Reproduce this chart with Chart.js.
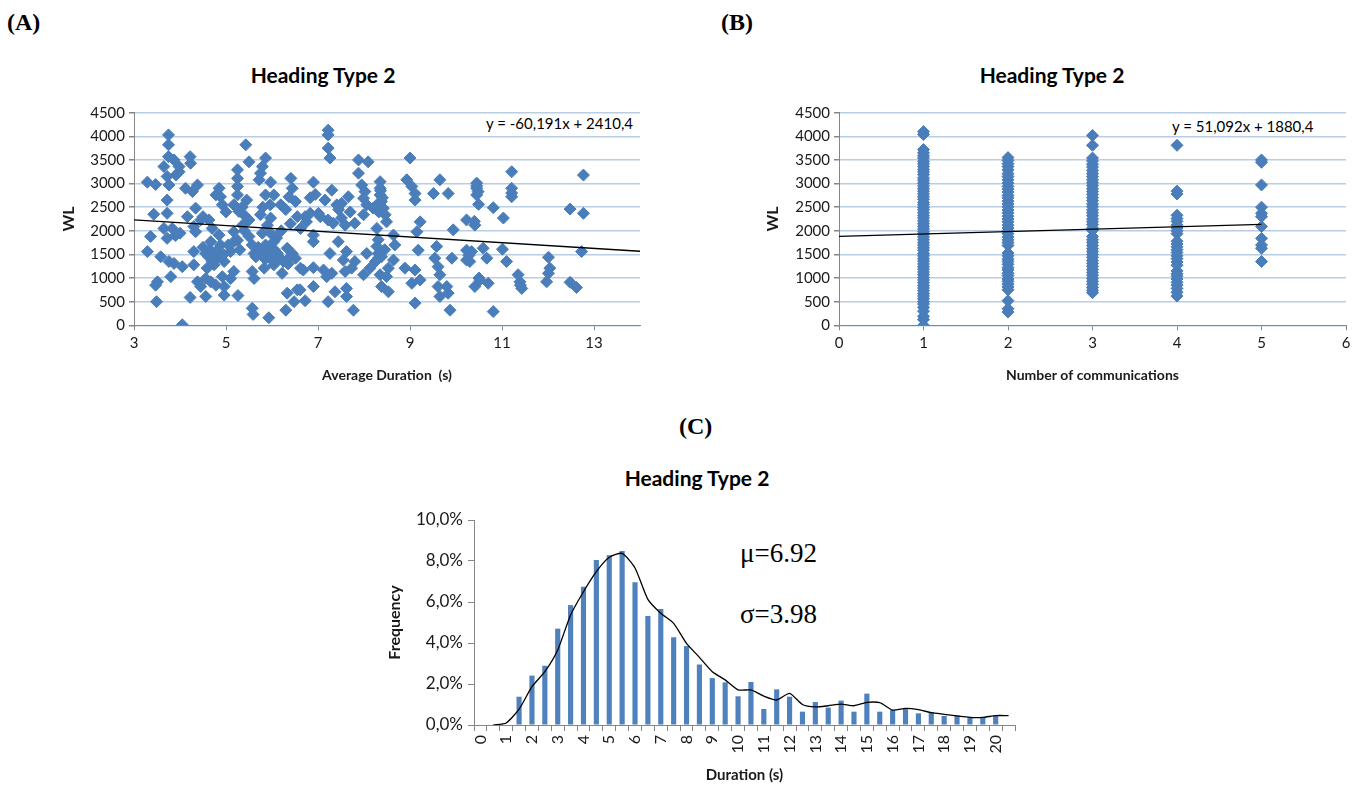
<!DOCTYPE html>
<html>
<head>
<meta charset="utf-8">
<title>Heading Type 2</title>
<script src="https://cdn.jsdelivr.net/npm/chart.js@4.4.0/dist/chart.umd.min.js"></script>
<style>
  body { margin: 0; background: #fff; }
  #page { position: relative; width: 1363px; height: 785px; overflow: hidden; }
  canvas { position: absolute; }
  .panel { position: absolute; font-family: 'Liberation Serif', serif; font-weight: bold; font-size: 24px; line-height: 1; }
  .ttl { position: absolute; font-family: Lato, sans-serif; font-weight: bold; font-size: 21px; white-space: nowrap; transform: translate(-50%, -50%); }
  .eq { position: absolute; font-family: Lato, sans-serif; font-size: 15px; white-space: nowrap; transform: translateY(-50%); }
  .stat { position: absolute; font-family: 'Liberation Serif', serif; font-size: 27px; white-space: nowrap; transform: translateY(-50%); }
</style>
</head>
<body>
<div id="page">
  <div class="panel" style="left:7px; top:10px;">(A)</div>
  <div class="panel" style="left:721px; top:10px;">(B)</div>
  <div class="panel" style="left:679px; top:414px;">(C)</div>
  <div class="ttl" style="left:323px; top:74px;">Heading Type 2</div>
  <div class="ttl" style="left:1052px; top:74px;">Heading Type 2</div>
  <div class="ttl" style="left:697px; top:477px;">Heading Type 2</div>
  <div class="eq" id="eqA" style="right:730px; top:123px;"></div>
  <div class="eq" id="eqB" style="left:1172px; top:126px;"></div>
  <div class="stat" style="left:740px; top:553px;">&mu;=6.92</div>
  <div class="stat" style="left:740px; top:614px;">&sigma;=3.98</div>

  <canvas id="chartA" width="680" height="300" style="left:0; top:95px;"></canvas>
  <canvas id="chartB" width="683" height="300" style="left:680px; top:95px;"></canvas>
  <canvas id="chartC" width="720" height="290" style="left:340px; top:500px;"></canvas>
</div>

<script>
// (A) duracion media vs WL
const durA = [
  3.75, 3.75, 3.75, 3.65, 3.87, 3.98, 3.72, 3.91, 3.98, 3.76,
  3.29, 3.47, 4.22, 4.23, 4.12, 4.27, 4.38, 4.34, 4.16, 3.72,
  3.72, 3.43, 3.65, 3.83, 3.72, 3.36, 3.29, 3.58, 3.76, 3.87,
  4.05, 3.80, 3.51, 3.47, 3.49, 4.05, 4.22, 4.30, 4.30, 4.34,
  4.30, 4.45, 4.38, 4.45, 4.56, 4.56, 4.59, 4.56, 4.67, 4.70,
  4.63, 4.85, 4.88, 4.92, 4.78, 4.85, 4.88, 4.78, 4.81, 4.74,
  4.67, 4.78, 4.96, 4.96, 4.92, 4.96, 5.10, 5.17, 5.17, 5.10,
  5.17, 5.26, 5.43, 5.50, 5.25, 5.25, 5.25, 5.25, 5.17, 5.28,
  5.39, 5.50, 5.36, 5.50, 5.57, 5.61, 5.57, 5.61, 5.57, 5.59,
  5.75, 5.86, 5.79, 5.75, 5.72, 5.97, 5.86, 6.04, 5.96, 6.19,
  6.41, 6.44, 6.37, 6.51, 6.55, 5.97, 5.90, 5.79, 5.97, 5.86,
  6.04, 5.75, 5.93, 6.12, 6.33, 6.44, 6.51, 5.83, 6.04, 6.22,
  6.33, 6.55, 6.48, 6.30, 5.93, 6.62, 6.62,
  5.95, 6.05, 6.15, 5.85, 6.00, 6.25, 6.10, 5.70, 5.65, 6.35,
  6.40, 5.25, 5.30, 5.05, 4.95, 4.62, 4.70, 4.50, 4.65, 5.40,
  5.35, 5.45, 5.00, 4.50, 4.00, 3.90, 5.80, 6.30, 6.20, 6.40,
  7.22, 7.22, 7.22, 7.26, 7.88, 8.09, 7.88, 6.90, 7.30, 7.15,
  6.94, 6.83, 7.41, 7.51, 7.66, 6.83, 6.72, 7.01, 6.75, 7.22,
  7.33, 7.51, 7.59, 7.80, 6.90, 6.90, 7.44, 7.26, 7.62, 7.55,
  7.80, 8.06, 6.68, 6.90, 7.12, 7.19, 7.30, 7.59, 7.73, 7.99,
  8.13, 6.90, 6.61, 6.72, 7.37, 7.62, 7.62, 7.22, 7.77, 7.95,
  8.02, 7.99, 8.06, 7.99, 8.20, 8.35, 8.35, 8.35, 8.38, 8.42,
  8.28, 8.46, 8.49, 8.28, 8.31, 8.28, 8.31, 8.38, 8.31, 8.67,
  8.64, 8.64, 8.53, 8.35, 8.49, 8.38, 8.53, 8.89, 9.00, 8.93,
  9.04, 9.11, 9.11, 9.22, 9.15, 9.18, 9.04, 9.11, 9.22, 9.11,
  9.51, 9.65, 9.83, 9.58, 9.54, 9.61, 9.65, 9.61, 9.65, 9.80,
  9.83, 9.91, 9.94, 9.87, 10.23, 10.23, 10.23,
  8.40, 8.36, 8.32, 7.45, 7.05, 8.25, 8.45, 7.70,
  11.21, 11.21, 11.21, 10.45, 10.45, 10.45, 10.49, 10.81, 11.03, 10.41,
  10.30, 10.34, 10.59, 10.67, 11.01, 11.10, 11.35, 11.39, 11.43, 10.52,
  10.41, 10.70, 10.81, 12.01, 12.04, 12.01, 11.97, 12.48, 12.77, 12.77,
  12.73, 12.48, 12.62,
  10.45, 11.21, 10.40, 10.28, 10.50, 11.40, 10.48
];
const wlA = [
  4030, 3820, 3570, 3360, 3500, 3360, 3150, 3180, 3250, 2970,
  3030, 2980, 3570, 3430, 2900, 2830, 2970, 2480, 2300, 2650,
  2370, 2350, 2050, 2050, 1840, 1880, 1560, 1450, 1350, 1310,
  1240, 1030, 920, 850, 500, 10, 590, 1280, 1560, 1980,
  2090, 2230, 920, 820, 610, 990, 1210, 1520, 1770, 2050,
  2230, 2900, 2720, 2550, 2760, 1910, 1700, 1560, 1420, 1280,
  920, 850, 820, 640, 1030, 1350, 1560, 1770, 1980, 990,
  1140, 630, 3820, 3460, 3290, 3110, 2940, 2760, 2550, 2410,
  2340, 2230, 2120, 1880, 1700, 1520, 1140, 990, 360, 230,
  2340, 3540, 3360, 3220, 3080, 3030, 2760, 2760, 2550, 2550,
  3110, 2900, 2720, 2620, 2300, 2270, 2120, 1950, 1950, 1700,
  1770, 1560, 1490, 1520, 1630, 1520, 1420, 1210, 1280, 1100,
  680, 750, 500, 320, 160, 1210, 2050,
  1650, 1600, 1450, 1400, 1380, 1350, 1850, 1650, 1450, 1300,
  1450, 1800, 1600, 1700, 1500, 1450, 1350, 1650, 1600, 2000,
  2500, 2650, 2400, 2300, 1950, 1900, 2500, 2450, 2000, 2150,
  4130, 4030, 3750, 3540, 3500, 3460, 3220, 3030, 2860, 2650,
  2770, 2700, 2550, 2580, 2720, 2370, 2300, 2370, 2190, 2230,
  2160, 2270, 2120, 2160, 1910, 1770, 1770, 1520, 1560, 1380,
  1350, 1520, 1170, 1220, 1170, 1030, 1100, 1140, 1210, 1070,
  1210, 820, 750, 520, 710, 780, 610, 500, 320, 2970,
  2830, 2690, 2550, 2340, 2480, 3040, 2900, 2760, 2620, 2480,
  2550, 2340, 2190, 2050, 1810, 1670, 1520, 1450, 1420, 1700,
  1910, 1380, 1210, 1070, 1030, 820, 710, 1210, 3540, 3080,
  2940, 2790, 2650, 2190, 1980, 1590, 890, 1170, 960, 470,
  2790, 3080, 2790, 1670, 1420, 1240, 1070, 820, 610, 820,
  680, 1420, 2020, 320, 2230, 1590, 1380,
  2700, 2850, 2400, 2450, 2300, 1350, 1600, 2400,
  3250, 2900, 2720, 3010, 2900, 2760, 2560, 2490, 2270, 2120,
  1350, 1560, 1630, 1420, 1610, 1350, 1070, 920, 780, 960,
  820, 890, 290, 1440, 1210, 1100, 920, 2460, 2370, 3180,
  1560, 910, 800,
  2950, 2800, 2200, 1480, 1000, 850, 2830
];
const tickA = [3, 5, 7, 9, 11, 13];
const slopeA = -60.191;
const interceptA = 2410.4;
const trendRangeA = [3, 14];

// (B) numero de comunicaciones vs WL, una lista por cada valor de x
const wlB1 = [4100, 4040, 3720, 3650, 3590, 3540, 3470, 3420, 3360, 3300, 3250, 3190, 3120, 3070, 3010, 2950,
  2890, 2840, 2780, 2720, 2670, 2600, 2550, 2490, 2440, 2380, 2320, 2270, 2210, 2150, 2090, 2040, 1980, 1930,
  1870, 1810, 1750, 1700, 1640, 1590, 1520, 1470, 1410, 1360, 1300, 1240, 1190, 1130, 1070, 1010, 960, 900,
  840, 790, 730, 670, 620, 560, 500, 450, 380, 300, 190, 120, 0];
const wlB2 = [3550, 3490, 3420, 3360, 3290, 3210, 3150, 3080, 3010, 2940, 2880, 2820, 2750, 2700, 2630, 2570,
  2510, 2440, 2380, 2310, 2250, 2190, 2120, 2060, 2000, 1940, 1870, 1810, 1750, 1690, 1530, 1470, 1400, 1350,
  1290, 1220, 1170, 1100, 1050, 980, 930, 870, 810, 750, 520, 350, 280];
const wlB3 = [4020, 3810, 3540, 3480, 3410, 3350, 3280, 3210, 3150, 3080, 3020, 2960, 2890, 2830, 2770, 2700,
  2640, 2570, 2510, 2440, 2380, 2320, 2250, 2190, 2130, 2060, 2010, 1880, 1810, 1750, 1690, 1620, 1560, 1500,
  1440, 1370, 1310, 1250, 1180, 1120, 1060, 990, 930, 870, 800, 740, 690];
const wlB4 = [3810, 2840, 2780, 2330, 2260, 2200, 2120, 2060, 2000, 1940, 1780, 1720, 1660, 1600, 1540, 1470,
  1410, 1340, 1270, 1150, 1090, 1040, 980, 910, 850, 780, 700, 620];
const wlB5 = [3500, 3450, 2970, 2500, 2370, 2300, 2090, 1840, 1700, 1630, 1350];
const commsB = [1, 2, 3, 4, 5];
const slopeB = 51.092;
const interceptB = 1880.4;
const trendRangeB = [0, 5];

// (C) histograma de duracion (%)
const catC = [0, 0.5, 1, 1.5, 2, 2.5, 3, 3.5, 4, 4.5, 5, 5.5, 6, 6.5, 7, 7.5, 8, 8.5, 9, 9.5, 10, 10.5,
  11, 11.5, 12, 12.5, 13, 13.5, 14, 14.5, 15, 15.5, 16, 16.5, 17, 17.5, 18, 18.5, 19, 19.5, 20, 20.5];
const freqC = [0, 0, 0, 1.38, 2.41, 2.89, 4.70, 5.85, 6.75, 8.05, 8.28, 8.49, 6.96, 5.32, 5.66, 4.28, 3.85,
  2.95, 2.29, 2.08, 1.40, 2.10, 0.78, 1.74, 1.38, 0.65, 1.12, 0.85, 1.19, 0.65, 1.53, 0.65, 0.73, 0.81, 0.57,
  0.63, 0.44, 0.46, 0.36, 0.39, 0.44, 0];
const fitC = [null, 0.0, 0.1, 0.77, 1.87, 2.6, 3.66, 5.37, 6.5, 7.48, 8.18, 8.37, 7.66, 6.13, 5.45, 4.96, 3.98,
  3.3, 2.6, 2.2, 1.71, 1.71, 1.41, 1.22, 1.54, 1.0, 0.88, 0.94, 1.02, 0.94, 1.1, 1.09, 0.73, 0.81, 0.75, 0.6,
  0.52, 0.44, 0.37, 0.37, 0.46, 0.46];
const tickC = [0, 2, 4, 6, 8, 10];

const azul = '#4a7ebb';
const gris = '#868686';
const rejilla = '#b9cde5';
const fuente = 'Lato';

// fija el ancho/alto de un eje para que el area del grafico quede donde queremos
function tamanoFijo(valor) {
  return function (eje) {
    if (eje.isHorizontal()) {
      eje.height = valor;
    } else {
      eje.width = valor;
    }
  };
}

function formatoComa(n) {
  return n.toFixed(3).replace('.', ',');
}

document.getElementById('eqA').textContent = `y = ${formatoComa(slopeA)}x + ${interceptA.toFixed(1).replace('.', ',')}`;
document.getElementById('eqB').textContent = `y = ${formatoComa(slopeB)}x + ${interceptB.toFixed(1).replace('.', ',')}`;

Chart.defaults.font.family = fuente;
Chart.defaults.color = '#1a1a1a';

function opcionesDispersion(cfg) {
  return {
    responsive: false,
    animation: false,
    events: [],
    layout: { padding: cfg.padding },
    plugins: { legend: { display: false }, tooltip: { enabled: false } },
    scales: {
      x: {
        type: 'linear',
        min: cfg.xMin,
        max: cfg.xMax,
        afterFit: tamanoFijo(cfg.xAlto),
        afterBuildTicks: eje => { eje.ticks = cfg.xTicks.map(v => ({ value: v })); },
        grid: { drawOnChartArea: false, drawTicks: true, tickLength: 5, color: gris },
        border: { color: gris },
        ticks: { font: { size: 15 }, padding: 4, callback: v => String(v) },
        title: { display: true, text: cfg.xTitulo, font: { size: 14, weight: 'bold' } }
      },
      y: {
        min: 0,
        max: 4500,
        afterFit: tamanoFijo(cfg.yAncho),
        grid: { color: rejilla, lineWidth: 1.5, tickColor: gris, tickLength: 5 },
        border: { color: gris },
        ticks: { stepSize: 500, font: { size: 15 }, padding: 4, callback: v => String(v) },
        title: { display: true, text: 'WL', font: { size: 16, weight: 'bold' } }
      }
    }
  };
}

function puntos(datos) {
  return {
    type: 'scatter',
    data: datos,
    order: 2,
    pointStyle: 'rectRot',
    pointRadius: 6,
    backgroundColor: azul,
    borderColor: azul,
    borderWidth: 1
  };
}

function tendencia(rango, m, b) {
  return {
    type: 'line',
    data: rango.map(x => ({ x: x, y: m * x + b })),
    order: 1,
    borderColor: '#000',
    borderWidth: 1.3,
    pointRadius: 0,
    fill: false
  };
}

// grafico A
new Chart(document.getElementById('chartA'), {
  type: 'scatter',
  data: {
    datasets: [
      tendencia(trendRangeA, slopeA, interceptA),
      puntos(durA.map((x, i) => ({ x: x, y: wlA[i] })))
    ]
  },
  options: opcionesDispersion({
    padding: { left: 55, right: 40, top: 17.7, bottom: 7 },
    xMin: 3, xMax: 14, xTicks: tickA, xAlto: 62.7, yAncho: 79,
    xTitulo: 'Average Duration  (s)'
  })
});

// grafico B
const listasB = [wlB1, wlB2, wlB3, wlB4, wlB5];
const datosB = [];
listasB.forEach((lista, i) => {
  lista.forEach(y => datosB.push({ x: commsB[i], y: y }));
});

new Chart(document.getElementById('chartB'), {
  type: 'scatter',
  data: {
    datasets: [
      tendencia(trendRangeB, slopeB, interceptB),
      puntos(datosB)
    ]
  },
  options: opcionesDispersion({
    padding: { left: 79, right: 17, top: 17.7, bottom: 7 },
    xMin: 0, xMax: 6, xTicks: [0, 1, 2, 3, 4, 5, 6], xAlto: 62.7, yAncho: 80,
    xTitulo: 'Number of communications'
  })
});

// grafico C
new Chart(document.getElementById('chartC'), {
  type: 'bar',
  data: {
    labels: catC,
    datasets: [
      {
        type: 'line',
        data: fitC,
        order: 1,
        borderColor: '#000',
        borderWidth: 1.3,
        pointRadius: 0,
        tension: 0.2,
        fill: false
      },
      {
        type: 'bar',
        data: freqC,
        order: 2,
        backgroundColor: '#4f81bd',
        barPercentage: 0.4,
        categoryPercentage: 1
      }
    ]
  },
  options: {
    responsive: false,
    animation: false,
    events: [],
    layout: { padding: { left: 41, right: 45, top: 20, bottom: 2 } },
    plugins: { legend: { display: false }, tooltip: { enabled: false } },
    scales: {
      x: {
        afterFit: tamanoFijo(63),
        grid: { drawOnChartArea: false, tickLength: 6, color: gris },
        border: { color: gris },
        ticks: {
          autoSkip: false,
          minRotation: 90,
          maxRotation: 90,
          padding: 4,
          font: { size: 16 },
          callback: (v, i) => Number.isInteger(catC[i]) ? String(catC[i]) : ''
        },
        title: { display: true, text: 'Duration (s)', font: { size: 15, weight: 'bold' } }
      },
      y: {
        min: 0,
        max: 10,
        afterFit: tamanoFijo(93),
        afterBuildTicks: eje => { eje.ticks = tickC.map(v => ({ value: v })); },
        grid: { drawOnChartArea: false, tickLength: 6, color: gris },
        border: { color: gris },
        ticks: { font: { size: 17 }, padding: 5, callback: v => v.toFixed(1).replace('.', ',') + '%' },
        title: { display: true, text: 'Frequency', font: { size: 16, weight: 'bold' } }
      }
    }
  }
});
</script>
</body>
</html>
